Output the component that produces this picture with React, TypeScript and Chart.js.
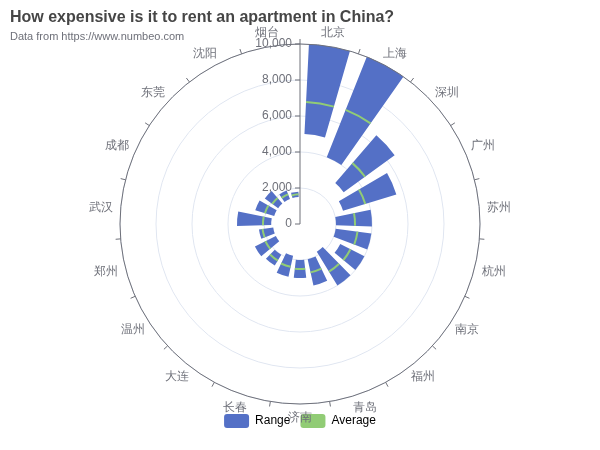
import { useEffect, useRef } from "react"
import { Chart, registerables } from "chart.js"

Chart.register(...registerables)

const cities = ["北京", "上海", "深圳", "广州", "苏州", "杭州", "南京", "福州", "青岛", "济南", "长春", "大连", "温州", "郑州", "武汉", "成都", "东莞", "沈阳", "烟台"]
const lows = [5000, 4000, 3000, 2500, 2000, 2000, 2500, 1800, 2000, 2000, 1800, 2000, 1500, 1500, 1600, 1500, 1500, 1500, 1500]
const highs = [10000, 10000, 6500, 5600, 4000, 4000, 4000, 4000, 3500, 3000, 3000, 2700, 2800, 2300, 3500, 2600, 2417.54, 2000, 1800]
const averages = [6785.71, 6825, 4463.33, 3793.83, 3060, 3222.33, 3133.33, 3100, 2750, 2500, 2433.33, 2375, 2150, 2100, 2057.14, 2037.5, 1905.85, 1775, 1650]
const tickValues = [0, 2000, 4000, 6000, 8000, 10000]

const BLUE = "#5470c6"
const GREEN = "#91cc75"
const FONT = "'Liberation Sans', Arial, sans-serif"

const polarBars = {
  id: "polarBars",
  beforeDatasetsDraw(chart: any) {
    const ctx = chart.ctx
    const s = chart.scales.r
    const cx = s.xCenter
    const cy = s.yCenter
    const n = cities.length
    const half = Math.PI / n
    const R = s.getDistanceFromCenterForValue(10000)
    ctx.save()
    // bars
    cities.forEach((_, i) => {
      const a = s.getIndexAngle(i) - Math.PI / 2
      const w = half * 0.7
      const r0 = s.getDistanceFromCenterForValue(lows[i])
      const r1 = s.getDistanceFromCenterForValue(highs[i])
      ctx.beginPath()
      ctx.arc(cx, cy, r1, a - w, a + w)
      ctx.arc(cx, cy, r0, a + w, a - w, true)
      ctx.closePath()
      ctx.fillStyle = BLUE
      ctx.fill()
      const ra = s.getDistanceFromCenterForValue(averages[i])
      ctx.beginPath()
      ctx.arc(cx, cy, ra, a - w, a + w)
      ctx.strokeStyle = GREEN
      ctx.lineWidth = 2
      ctx.stroke()
    })
    // outer angle axis
    ctx.beginPath()
    ctx.arc(cx, cy, R, 0, Math.PI * 2)
    ctx.strokeStyle = "#6e7079"
    ctx.lineWidth = 1
    ctx.stroke()
    ctx.font = `12px ${FONT}`
    ctx.fillStyle = "#6e7079"
    ctx.textAlign = "center"
    ctx.textBaseline = "middle"
    cities.forEach((c, i) => {
      const a = s.getIndexAngle(i) - Math.PI / 2
      const b = a - half
      ctx.beginPath()
      ctx.moveTo(cx + Math.cos(b) * R, cy + Math.sin(b) * R)
      ctx.lineTo(cx + Math.cos(b) * (R + 5), cy + Math.sin(b) * (R + 5))
      ctx.stroke()
      const lr = R + 14
      ctx.fillText(c, cx + Math.cos(a) * lr + Math.cos(a) * 6, cy + Math.sin(a) * lr)
    })
    // radius axis
    ctx.beginPath()
    ctx.moveTo(cx, cy)
    ctx.lineTo(cx, cy - R)
    ctx.stroke()
    ctx.textAlign = "right"
    tickValues.forEach((v) => {
      const y = cy - s.getDistanceFromCenterForValue(v)
      ctx.beginPath()
      ctx.moveTo(cx, y)
      ctx.lineTo(cx - 5, y)
      ctx.stroke()
      ctx.fillText(v.toLocaleString("en-US"), cx - 8, y)
    })
    // title
    ctx.textAlign = "left"
    ctx.textBaseline = "alphabetic"
    ctx.fillStyle = "#464646"
    ctx.font = `bold 16px ${FONT}`
    ctx.fillText("How expensive is it to rent an apartment in China?", 10, 22)
    ctx.font = `11px ${FONT}`
    ctx.fillStyle = "#6e7079"
    ctx.fillText("Data from https://www.numbeo.com", 10, 40)
    ctx.restore()
  },
}

export default function App() {
  const ref = useRef<HTMLCanvasElement>(null)

  useEffect(() => {
    document.body.style.margin = "0"
    if (!ref.current) return
    const chart = new Chart(ref.current, {
      type: "radar",
      data: {
        labels: cities,
        datasets: [
          { label: "Range", data: highs, backgroundColor: BLUE, borderColor: BLUE, borderWidth: 0, pointRadius: 0, showLine: false, fill: false },
          { label: "Average", data: averages, backgroundColor: GREEN, borderColor: GREEN, borderWidth: 0, pointRadius: 0, showLine: false, fill: false },
        ],
      },
      options: {
        animation: false,
        responsive: false,
        layout: { padding: { top: 44, bottom: 12 } },
        scales: {
          r: {
            min: 0,
            max: 10000,
            startAngle: 180 / cities.length,
            ticks: { display: false, stepSize: 2000 },
            grid: { circular: true, color: "#e0e6f1" },
            angleLines: { display: false },
            pointLabels: { display: false },
          },
        },
        plugins: {
          title: { display: false },
          tooltip: { enabled: false },
          legend: {
            position: "bottom",
            labels: {
              boxWidth: 25,
              boxHeight: 14,
              useBorderRadius: true,
              borderRadius: 3,
              color: "#333",
              font: { size: 12, family: FONT },
              generateLabels: (c: any) =>
                c.data.datasets.map((d: any, i: number) => ({
                  text: d.label,
                  fillStyle: d.backgroundColor,
                  strokeStyle: d.backgroundColor,
                  lineWidth: 0,
                  datasetIndex: i,
                  borderRadius: 3,
                })),
            },
          },
        },
      },
      plugins: [polarBars],
    })
    return () => chart.destroy()
  }, [])

  return <canvas ref={ref} width={600} height={450} style={{ display: "block" }} />
}
